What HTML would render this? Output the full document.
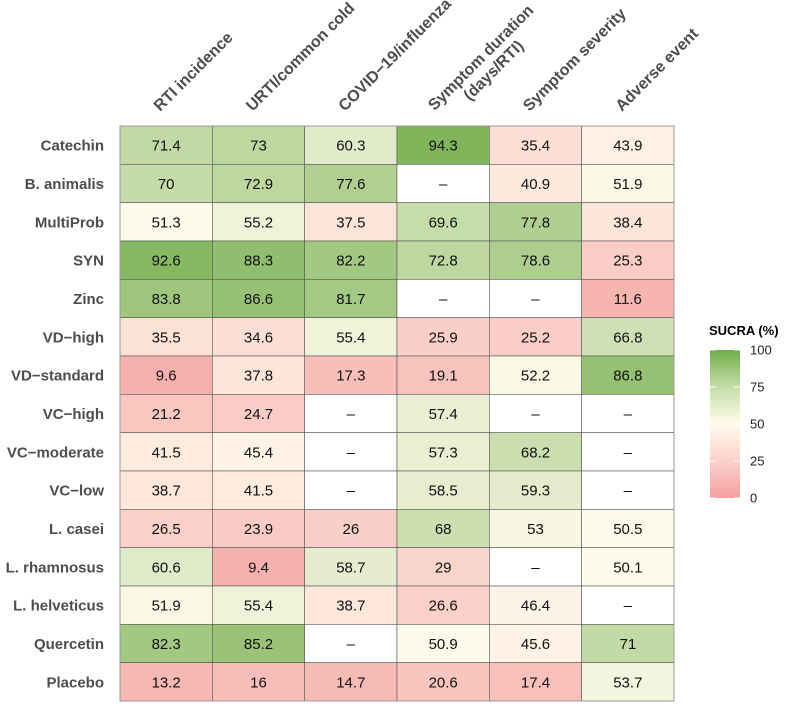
<!DOCTYPE html>
<html><head><meta charset="utf-8"><style>
html,body{margin:0;padding:0;background:#fff;}
svg text{font-family:"Liberation Sans",Arial,sans-serif;}
</style></head><body>
<svg id="chart" width="785" height="702" xmlns="http://www.w3.org/2000/svg">
<defs>
<linearGradient id="lg" x1="0" y1="1" x2="0" y2="0">
<stop offset="0" stop-color="rgb(244,160,160)"/>
<stop offset="0.25" stop-color="rgb(251,208,202)"/>
<stop offset="0.5" stop-color="rgb(255,251,235)"/>
<stop offset="0.75" stop-color="rgb(196,222,168)"/>
<stop offset="1" stop-color="rgb(112,172,72)"/>
</linearGradient>
</defs>
<g id="cells"></g>
<g id="legend">
<text x="709" y="335" font-size="13" font-weight="bold" fill="#000">SUCRA (%)</text>
<rect x="710" y="350" width="30" height="148" fill="url(#lg)"/>
</g>
</svg>
<script>
const rows=["Catechin","B. animalis","MultiProb","SYN","Zinc","VD\u2212high","VD\u2212standard","VC\u2212high","VC\u2212moderate","VC\u2212low","L. casei","L. rhamnosus","L. helveticus","Quercetin","Placebo"];
const cols=["RTI incidence","URTI/common cold","COVID\u221219/influenza","Symptom duration|(days/RTI)","Symptom severity","Adverse event"];
const vRTI=[71.4,70,51.3,92.6,83.8,35.5,9.6,21.2,41.5,38.7,26.5,60.6,51.9,82.3,13.2];
const vURTI=[73,72.9,55.2,88.3,86.6,34.6,37.8,24.7,45.4,41.5,23.9,9.4,55.4,85.2,16];
const vCOVID=[60.3,77.6,37.5,82.2,81.7,55.4,17.3,null,null,null,26,58.7,38.7,null,14.7];
const vDur=[94.3,null,69.6,72.8,null,25.9,19.1,57.4,57.3,58.5,68,29,26.6,50.9,20.6];
const vSev=[35.4,40.9,77.8,78.6,null,25.2,52.2,null,68.2,59.3,53,null,46.4,45.6,17.4];
const vAE=[43.9,51.9,38.4,25.3,11.6,66.8,86.8,null,null,null,50.5,50.1,null,71,53.7];
const legendTicks=[0,25,50,75,100];
const series=[vRTI,vURTI,vCOVID,vDur,vSev,vAE];
const X0=120,Y0=126,CW=554/6,RH=575/15;
const NS="http://www.w3.org/2000/svg";
const svg=document.getElementById('chart');
const g=document.getElementById('cells');
const lo=[244,160,160],mid=[255,251,235],hi=[112,172,72];
function color(v){let a,b,t;if(v<50){a=lo;b=mid;t=v/50;}else{a=mid;b=hi;t=(v-50)/50;}
return 'rgb('+a.map((c,i)=>Math.round(c+(b[i]-c)*t)).join(',')+')';}
function el(tag,attrs,parent){const e=document.createElementNS(NS,tag);for(const k in attrs)e.setAttribute(k,attrs[k]);parent.appendChild(e);return e;}
series.forEach((s,ci)=>{s.forEach((v,ri)=>{
const r=el('rect',{x:X0+ci*CW,y:Y0+ri*RH,width:CW,height:RH,fill:v==null?'#fff':color(v),stroke:'#555','stroke-width':0.6},g);


const t=el('text',{x:X0+ci*CW+CW/2,y:Y0+ri*RH+RH/2+5.5,'text-anchor':'middle','font-size':15,fill:'#111'},g);
t.textContent=v==null?'\u2013':String(v);


});});
el('rect',{x:X0,y:Y0,width:CW*6,height:RH*15,fill:'none',stroke:'#999','stroke-width':1},g);
rows.forEach((n,ri)=>{const t=el('text',{x:104,y:Y0+ri*RH+RH/2+5.5,'text-anchor':'end','font-size':15,'font-weight':'bold',fill:'#4d4d4d'},svg);
t.textContent=n;

});
cols.forEach((n,ci)=>{const parts=n.split('|');const cx=X0+ci*CW+CW/2-(parts.length>1?8:6);
const grp=el('g',{transform:'translate('+cx+',112) rotate(-45)'},svg);


const t1=el('text',{x:0,y:0,'font-size':16,'font-weight':'bold',fill:'#4d4d4d'},grp);
t1.textContent=parts[0];


if(parts.length>1){const L=t1.getComputedTextLength();
const t2=el('text',{x:L/2,y:17,'text-anchor':'middle','font-size':16,'font-weight':'bold',fill:'#4d4d4d'},grp);
t2.textContent=parts[1];


t1.setAttribute('y',-1);}
});
const lg=document.getElementById('legend');
legendTicks.forEach(v=>{const y=498-v/100*148;
const l1=el('line',{x1:710,x2:716,y1:y,y2:y,stroke:'#fff','stroke-width':1},lg);


const l2=el('line',{x1:734,x2:740,y1:y,y2:y,stroke:'#fff','stroke-width':1},lg);


const t=el('text',{x:750,y:y+4.5,'font-size':13,fill:'#222'},lg);
t.textContent=String(v);

});
</script>
</body></html>
